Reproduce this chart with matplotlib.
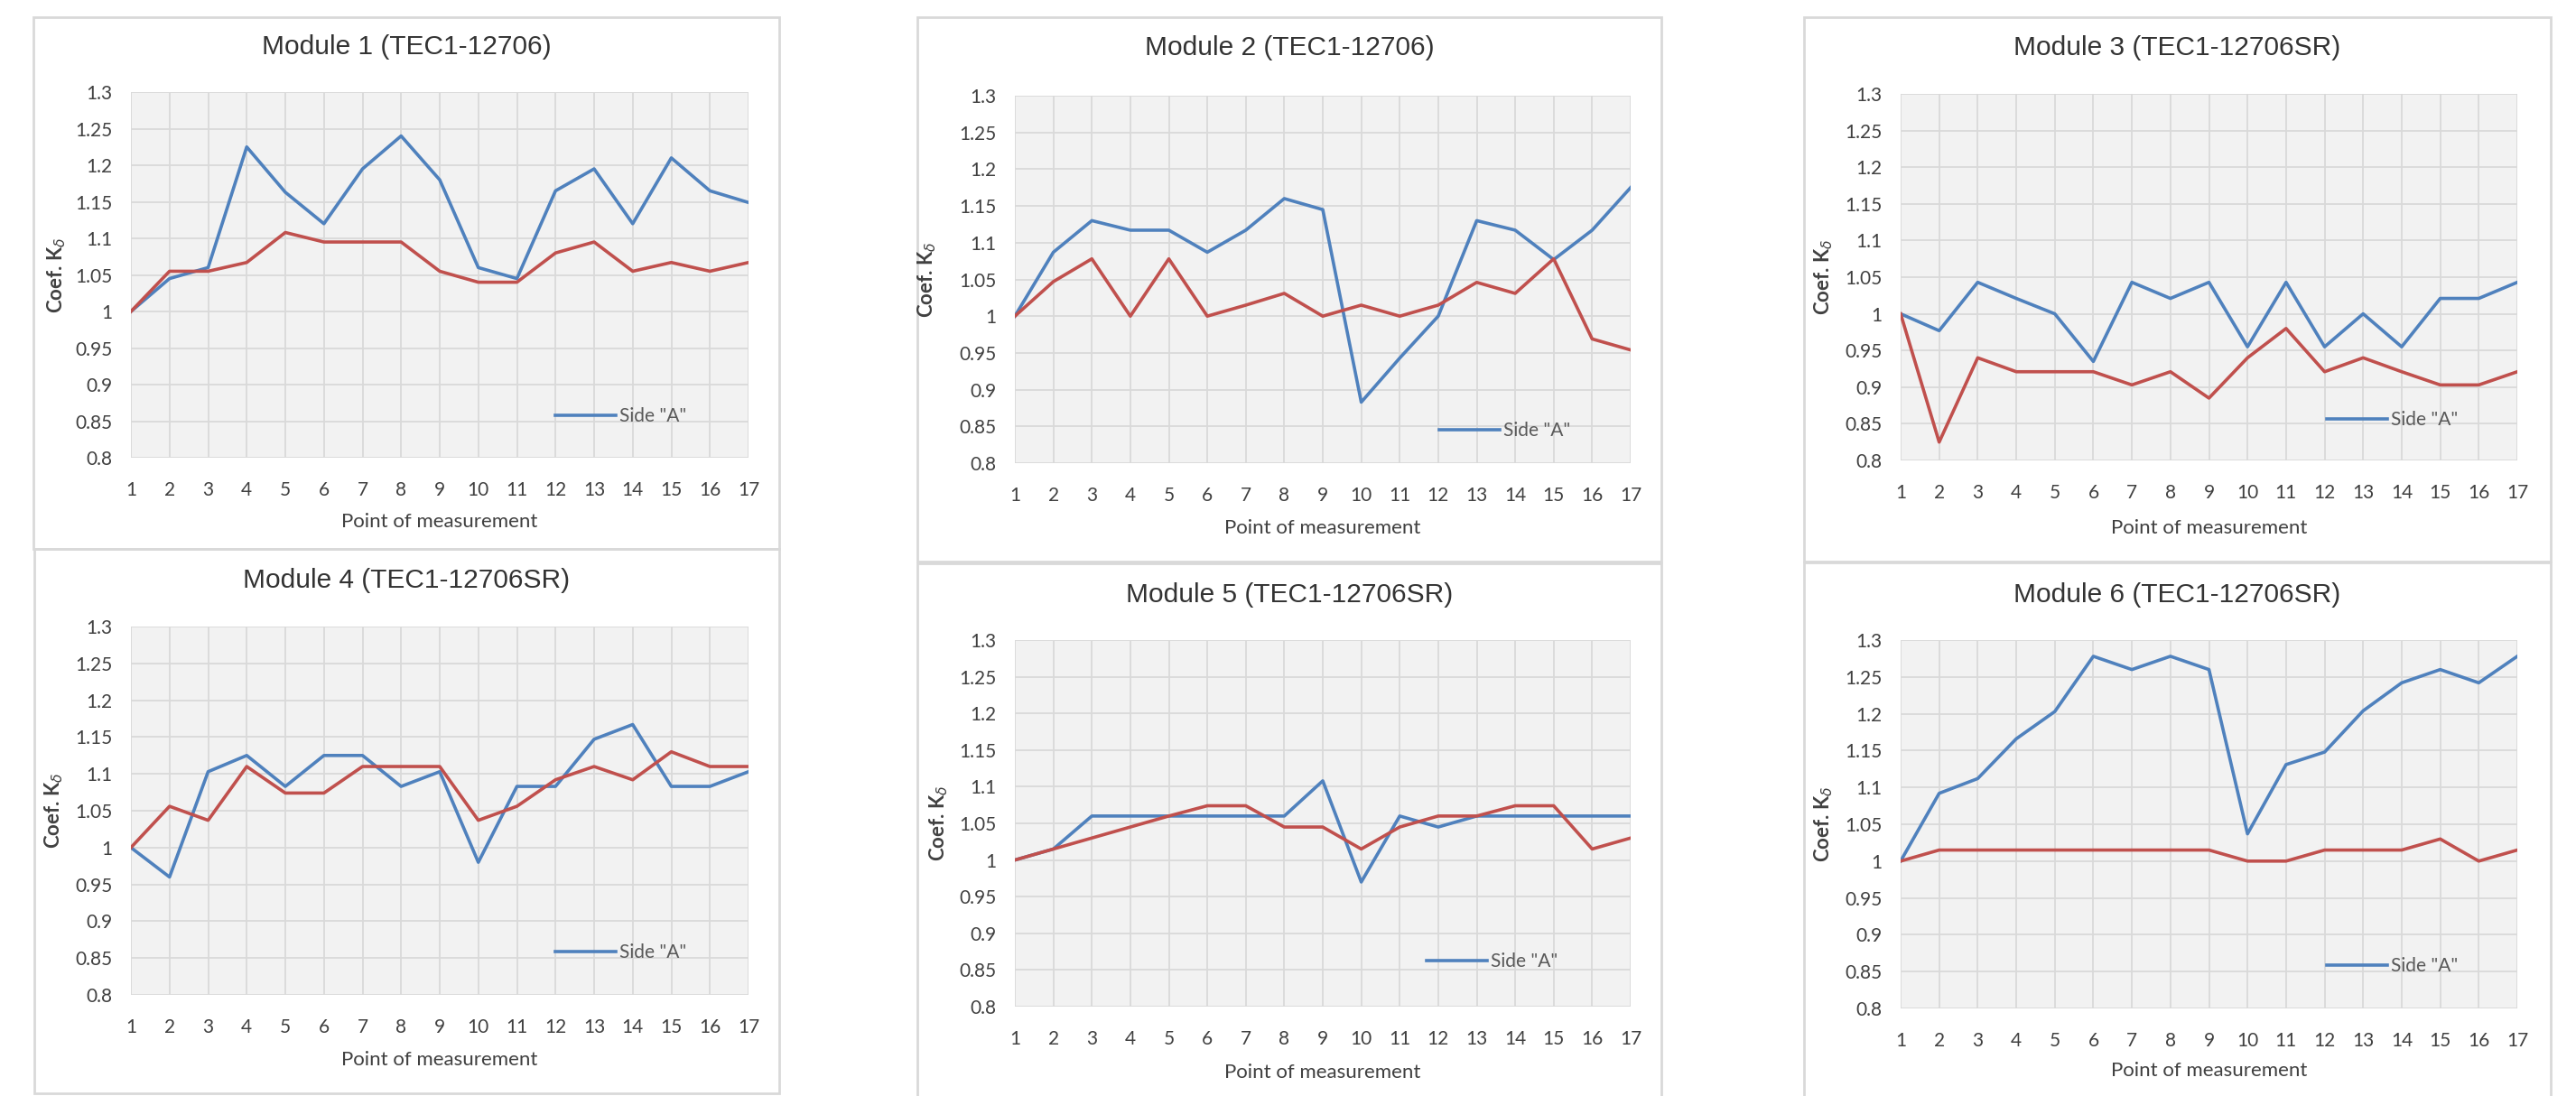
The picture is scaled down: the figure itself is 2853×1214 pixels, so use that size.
import matplotlib
matplotlib.use("Agg")
import matplotlib.pyplot as plt
from matplotlib.patches import Rectangle
from matplotlib.lines import Line2D

# ---------------- data ----------------
points = list(range(1, 18))

titles = [
    "Module 1 (TEC1-12706)",
    "Module 2 (TEC1-12706)",
    "Module 3 (TEC1-12706SR)",
    "Module 4 (TEC1-12706SR)",
    "Module 5 (TEC1-12706SR)",
    "Module 6 (TEC1-12706SR)",
]

m1_side_a = [1.0, 1.045, 1.06, 1.225, 1.163, 1.12, 1.195, 1.24, 1.18, 1.06, 1.045, 1.165, 1.195, 1.12, 1.21, 1.165, 1.149]
m1_side_b = [1.0, 1.055, 1.055, 1.067, 1.108, 1.095, 1.095, 1.095, 1.055, 1.04, 1.04, 1.08, 1.095, 1.055, 1.067, 1.055, 1.067]

m2_side_a = [1.0, 1.087, 1.13, 1.117, 1.117, 1.087, 1.117, 1.16, 1.145, 0.883, 0.943, 1.0, 1.13, 1.117, 1.077, 1.117, 1.175]
m2_side_b = [1.0, 1.047, 1.078, 1.0, 1.078, 1.0, 1.015, 1.031, 1.0, 1.015, 1.0, 1.015, 1.046, 1.031, 1.078, 0.969, 0.954]

m3_side_a = [1.0, 0.977, 1.043, 1.021, 1.0, 0.935, 1.043, 1.021, 1.043, 0.955, 1.043, 0.955, 1.0, 0.955, 1.021, 1.021, 1.043]
m3_side_b = [1.0, 0.825, 0.94, 0.921, 0.921, 0.921, 0.903, 0.921, 0.885, 0.94, 0.98, 0.921, 0.94, 0.921, 0.903, 0.903, 0.921]

m4_side_a = [1.0, 0.96, 1.103, 1.125, 1.083, 1.125, 1.125, 1.083, 1.103, 0.98, 1.083, 1.083, 1.147, 1.167, 1.083, 1.083, 1.103]
m4_side_b = [1.0, 1.056, 1.037, 1.11, 1.074, 1.074, 1.11, 1.11, 1.11, 1.037, 1.056, 1.092, 1.11, 1.092, 1.13, 1.11, 1.11]

m5_side_a = [1.0, 1.015, 1.06, 1.06, 1.06, 1.06, 1.06, 1.06, 1.108, 0.97, 1.06, 1.045, 1.06, 1.06, 1.06, 1.06, 1.06]
m5_side_b = [1.0, 1.015, 1.03, 1.045, 1.06, 1.074, 1.074, 1.045, 1.045, 1.015, 1.045, 1.06, 1.06, 1.074, 1.074, 1.015, 1.03]

m6_side_a = [1.0, 1.092, 1.112, 1.166, 1.203, 1.278, 1.26, 1.278, 1.26, 1.037, 1.131, 1.148, 1.204, 1.242, 1.26, 1.242, 1.278]
m6_side_b = [1.0, 1.015, 1.015, 1.015, 1.015, 1.015, 1.015, 1.015, 1.015, 1.0, 1.0, 1.015, 1.015, 1.015, 1.03, 1.0, 1.015]

side_a = [m1_side_a, m2_side_a, m3_side_a, m4_side_a, m5_side_a, m6_side_a]
side_b = [m1_side_b, m2_side_b, m3_side_b, m4_side_b, m5_side_b, m6_side_b]

y_ticks = [0.8, 0.85, 0.9, 0.95, 1.0, 1.05, 1.1, 1.15, 1.2, 1.25, 1.3]
y_tick_labels = ["0.8", "0.85", "0.9", "0.95", "1", "1.05", "1.1", "1.15", "1.2", "1.25", "1.3"]
legend_label = 'Side "A"'
x_label = "Point of measurement"
y_label = r"Coef. K$_{\delta}$"

# ---------------- layout (pixels) ----------------
W, H = 2853, 1214
# plot areas: left, right, top, bottom
plot_px = [
    (145, 829, 102, 507),
    (1124, 1806, 106, 513),
    (2105, 2788, 104, 510),
    (145, 829, 694, 1102),
    (1124, 1806, 709, 1115),
    (2105, 2788, 709, 1117),
]
# chart frames: left, right, top, bottom
box_px = [
    (37, 863, 19, 608),
    (1016, 1840, 19, 622),
    (1998, 2825, 19, 622),
    (38, 863, 608, 1211),
    (1016, 1840, 624, 1216),
    (1998, 2825, 623, 1216),
]
title_y_px = [60, 61, 61, 651, 667, 667]
xlabel_y_px = [578, 585, 585, 1174, 1188, 1186]
ylabel_x_px = [63, 1027, 2020, 60, 1040, 2020]
legend_pos_px = [(615, 461), (1594, 477), (2577, 465), (615, 1055), (1580, 1065), (2577, 1070)]

BLUE = "#4F81BD"
RED = "#C0504D"
TXT = "#404040"

fig = plt.figure(figsize=(W / 100, H / 100), dpi=100)
fig.patch.set_facecolor("white")

for i in range(6):
    l, r, t, b = plot_px[i]
    ax = fig.add_axes([l / W, 1 - b / H, (r - l) / W, (b - t) / H])
    ax.set_facecolor("#F2F2F2")
    ax.plot(points, side_a[i], color=BLUE, lw=2.6, zorder=3, label=legend_label)
    ax.plot(points, side_b[i], color=RED, lw=2.6, zorder=3)
    ax.set_xlim(1, 17)
    ax.set_ylim(0.8, 1.3)
    ax.set_xticks(points)
    ax.set_xticklabels([str(p) for p in points])
    ax.set_yticks(y_ticks)
    ax.set_yticklabels(y_tick_labels)
    ax.grid(True, color="#D9D9D9", lw=1.3, zorder=0)
    ax.set_axisbelow(True)
    for s in ax.spines.values():
        s.set_visible(False)
    ax.tick_params(axis="both", length=0, labelsize=15, colors=TXT)
    ax.tick_params(axis="x", pad=19)
    ax.tick_params(axis="y", pad=15)
    for lab in ax.get_xticklabels() + ax.get_yticklabels():
        lab.set_family(["Lato", "DejaVu Sans"])

    # title centered on chart frame
    bl, br, bt, bb = box_px[i]
    cx = ((bl + br) / 2 - l) / (r - l)
    ty = (b - title_y_px[i]) / (b - t)
    ax.set_title(titles[i], x=cx, y=ty, va="center", fontsize=21.5,
                 family=["Liberation Sans", "DejaVu Sans"], color="#333333")

    ax.set_xlabel(x_label, fontsize=16, color=TXT, family=["Lato", "DejaVu Sans"])
    ax.xaxis.set_label_coords(0.5, (b - xlabel_y_px[i]) / (b - t))
    ax.xaxis.label.set_va("center")

    ax.set_ylabel(y_label, fontsize=16, color=TXT, fontweight="bold",
                  family=["Lato", "DejaVu Sans"])
    ax.yaxis.set_label_coords((ylabel_x_px[i] - l) / (r - l), 0.5)
    ax.yaxis.label.set_va("center")

    lx, ly = legend_pos_px[i]
    leg = ax.legend(loc="center left",
                    bbox_to_anchor=((lx - l) / (r - l), (b - ly) / (b - t)),
                    frameon=False, borderaxespad=0, borderpad=0,
                    handlelength=3.2, handletextpad=0.2,
                    prop={"family": ["Lato", "DejaVu Sans"], "size": 15})
    for txt in leg.get_texts():
        txt.set_color("#595959")

    # chart frame
    fig.add_artist(Rectangle((bl / W, 1 - bb / H), (br - bl) / W, (bb - bt) / H,
                             transform=fig.transFigure, fill=False,
                             edgecolor="#D9D9D9", lw=2.0, zorder=0))

fig.savefig("out.png", dpi=100, facecolor="white")
